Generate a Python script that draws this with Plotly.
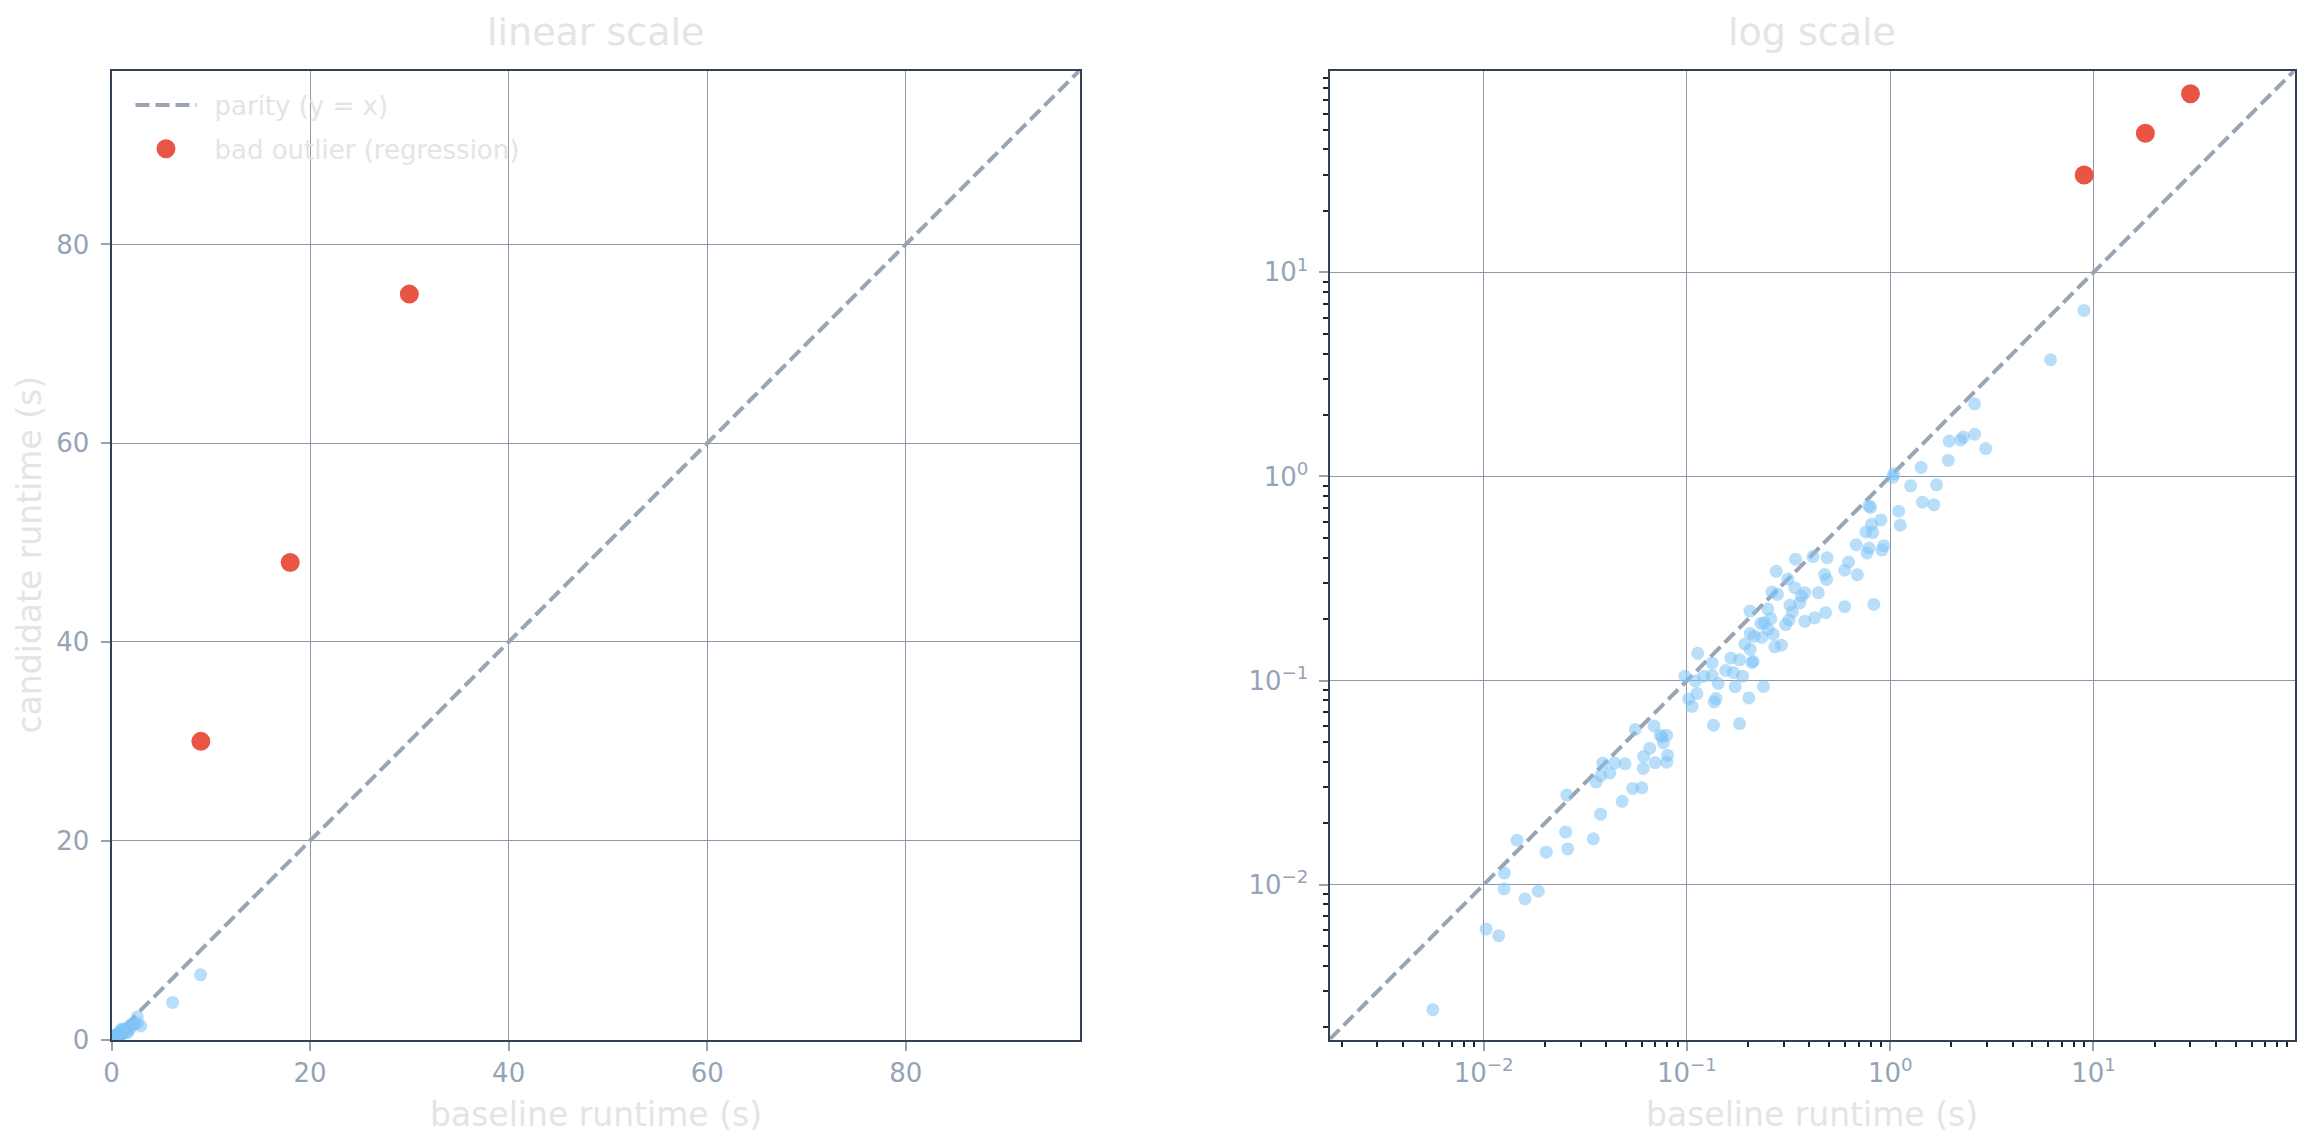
import numpy as np
import plotly.graph_objects as go

# ---------------- data ----------------
baseline = [
    0.00562, 0.01027, 0.01185, 0.01259, 0.01264, 0.01596, 0.01855, 0.01458, 0.0203, 0.0253,
    0.0259, 0.02566, 0.0346, 0.0376, 0.0357, 0.0376, 0.0417, 0.048, 0.0541, 0.060,
    0.0385, 0.044,
    0.0496, 0.061, 0.0612, 0.0656, 0.0697, 0.0795, 0.0803, 0.0689, 0.0557, 0.074,
    0.0765, 0.0795, 0.0753, 0.0977, 0.110, 0.112, 0.102, 0.106, 0.121, 0.113,
    0.133, 0.133, 0.1426, 0.135, 0.136, 0.139, 0.1815, 0.2016, 0.238, 0.1726,
    0.155, 0.1644, 0.1815, 0.1694, 0.1876, 0.2086, 0.2117, 0.1927, 0.2047, 0.2047,
    0.2143, 0.2335, 0.231, 0.240, 0.251, 0.2655, 0.2585, 0.2705, 0.2917, 0.204,
    0.250, 0.2615, 0.279, 0.2746, 0.306, 0.318, 0.330, 0.321,
    0.314, 0.339, 0.380, 0.366, 0.443, 0.359, 0.597, 0.830, 0.481, 0.425,
    0.380, 0.342, 0.417, 0.489, 0.624, 0.597, 0.689, 0.476, 0.486, 0.680,
    0.786, 0.768, 0.930, 0.910, 0.760, 0.820, 0.810, 0.900, 0.786, 0.800,
    1.10, 1.12, 1.04, 1.03, 1.26, 1.69, 1.44, 1.64, 1.42, 1.93,
    1.95, 2.22, 2.29, 2.60, 2.95, 2.60, 6.15, 8.97,
]
candidate = [
    0.00244, 0.00606, 0.00562, 0.00952, 0.0114, 0.00851, 0.00928, 0.01651, 0.01442, 0.0181,
    0.01496, 0.02748, 0.01676, 0.02215, 0.0318, 0.0342, 0.0352, 0.0256, 0.0296, 0.0298,
    0.0394, 0.0394,
    0.0391, 0.0371, 0.0425, 0.0466, 0.0396, 0.0398, 0.0431, 0.0599, 0.0576, 0.0539,
    0.0496, 0.0539, 0.0529, 0.105, 0.0996, 0.0863, 0.0813, 0.0748, 0.105, 0.136,
    0.122, 0.106, 0.0967, 0.0604, 0.0786, 0.0816, 0.0615, 0.0822, 0.0934, 0.0934,
    0.112, 0.129, 0.1264, 0.1094, 0.105, 0.1226, 0.124, 0.151, 0.142, 0.170,
    0.165, 0.1626, 0.1905, 0.192, 0.178, 0.1688, 0.201, 0.1463, 0.149, 0.219,
    0.224, 0.2716, 0.2644, 0.343, 0.188, 0.198, 0.217, 0.234,
    0.314, 0.285, 0.269, 0.259, 0.269, 0.240, 0.230, 0.236, 0.215, 0.203,
    0.195, 0.393, 0.405, 0.400, 0.381, 0.347, 0.330, 0.331, 0.313, 0.463,
    0.446, 0.422, 0.457, 0.436, 0.535, 0.531, 0.583, 0.612, 0.718, 0.705,
    0.676, 0.577, 1.03, 0.99, 0.90, 0.91, 0.748, 0.726, 1.107, 1.20,
    1.49, 1.51, 1.56, 1.61, 1.37, 2.27, 3.73, 6.51,
]
outlier_baseline = [9.0, 18.0, 30.0]
outlier_candidate = [30.0, 48.0, 75.0]

lin_ticks = [0, 20, 40, 60, 80]
log_ticks = [0.01, 0.1, 1, 10]
log_ticktext = ["10<sup>\u22122</sup>", "10<sup>\u22121</sup>", "10<sup>0</sup>", "10<sup>1</sup>"]
minor_decades = [0.001, 0.01, 0.1, 1, 10]
minor_mults = [2, 3, 4, 5, 6, 7, 8, 9]

# axis limits derived from the data
all_vals = baseline + candidate + outlier_baseline + outlier_candidate
hi = max(all_vals) * 1.3
lo = min(all_vals) / 1.4
lin_range = [0, hi]
log_range = [np.log10(lo), np.log10(hi)]
minor_vals = [d * m for d in minor_decades for m in minor_mults]

# ---------------- style ----------------
WIN_W, WIN_H = 2308, 1143
PAGE_MARGIN = 8              # default margin of the html body
OFF = 6.5                    # effective offset of the figure in the window
W, H = WIN_W - PAGE_MARGIN, WIN_H - PAGE_MARGIN
FONT = "DejaVu Sans"
LIGHT = "#e4e4e4"
TICKC = "#94a3b8"
FRAME = "#334155"
GRID = "#8f98a8"
BLUE = "#7dc3f5"
RED = "#e74c3c"
PARITY = "#9aa4b2"
DASH = "14px,6px"


def px_x(v):
    return (v - OFF) / W


def px_y(v):
    return 1 - (v - OFF) / H


dom_y = [px_y(1038), px_y(69)]
dom_x1 = [px_x(110), px_x(1078)]
dom_x2 = [px_x(1328), px_x(2293)]

red_marker = dict(color=RED, size=16, opacity=0.95, line=dict(width=3, color=RED))
blue_marker = dict(color=BLUE, size=13, opacity=0.55, line=dict(width=0))

fig = go.Figure()

# ---------- linear panel ----------
fig.add_trace(go.Scatter(
    x=lin_range, y=lin_range, mode="lines",
    line=dict(color=PARITY, width=4, dash=DASH),
    name="\u2002parity (y = x)", legendgroup="a", showlegend=True,
    xaxis="x", yaxis="y"))
fig.add_trace(go.Scatter(
    x=baseline, y=candidate, mode="markers", marker=blue_marker,
    showlegend=False, xaxis="x", yaxis="y"))
fig.add_trace(go.Scatter(
    x=outlier_baseline, y=outlier_candidate, mode="markers", marker=red_marker,
    name="\u2002bad outlier (regression)", legendgroup="b", showlegend=True,
    xaxis="x", yaxis="y"))

# ---------- log panel ----------
log_line = [lo, hi]
fig.add_trace(go.Scatter(
    x=log_line, y=log_line, mode="lines",
    line=dict(color=PARITY, width=4, dash=DASH),
    showlegend=False, xaxis="x2", yaxis="y2"))
fig.add_trace(go.Scatter(
    x=baseline, y=candidate, mode="markers", marker=blue_marker,
    showlegend=False, xaxis="x2", yaxis="y2"))
fig.add_trace(go.Scatter(
    x=outlier_baseline, y=outlier_candidate, mode="markers", marker=red_marker,
    showlegend=False, xaxis="x2", yaxis="y2"))

common = dict(
    showline=True, linecolor=FRAME, linewidth=2, mirror=True,
    showgrid=True, gridcolor=GRID, gridwidth=1.2,
    zeroline=False, ticks="outside", ticklen=9, tickwidth=2, tickcolor=TICKC,
    tickfont=dict(family=FONT, size=26, color=TICKC), automargin=False,
)

minor = dict(ticks="outside", ticklen=5, tickwidth=1.5, tickcolor="#222222",
             showgrid=False, tickvals=minor_vals)

fig.update_layout(
    width=W, height=H,
    margin=dict(l=0, r=0, t=0, b=0),
    paper_bgcolor="white", plot_bgcolor="white",
    font=dict(family=FONT, color=LIGHT),
    xaxis=dict(domain=dom_x1, anchor="y", range=lin_range, tickvals=lin_ticks, **common),
    yaxis=dict(domain=dom_y, anchor="x", range=lin_range, tickvals=lin_ticks,
               ticklabelstandoff=6, **common),
    xaxis2=dict(domain=dom_x2, anchor="y2", type="log", range=log_range,
                tickvals=log_ticks, ticktext=log_ticktext, minor=minor, **common),
    yaxis2=dict(domain=dom_y, anchor="x2", type="log", range=log_range,
                tickvals=log_ticks, ticktext=log_ticktext, minor=minor,
                ticklabelstandoff=5, **common),
    legend=dict(x=px_x(129), y=px_y(80), xanchor="left", yanchor="top",
                bgcolor="rgba(0,0,0,0)", borderwidth=0,
                font=dict(family=FONT, size=26, color=LIGHT),
                traceorder="grouped", tracegroupgap=7, itemwidth=61),
    showlegend=True,
)

annos = [
    dict(text="linear scale", x=(dom_x1[0] + dom_x1[1]) / 2, y=1.0, xa="center", ya="top", size=38, angle=0),
    dict(text="log scale", x=(dom_x2[0] + dom_x2[1]) / 2, y=1.0, xa="center", ya="top", size=38, angle=0),
    dict(text="baseline runtime (s)", x=(dom_x1[0] + dom_x1[1]) / 2, y=px_y(1113), xa="center", ya="middle", size=33, angle=0),
    dict(text="baseline runtime (s)", x=(dom_x2[0] + dom_x2[1]) / 2, y=px_y(1113), xa="center", ya="middle", size=33, angle=0),
    dict(text="candidate runtime (s)", x=0.0, y=(dom_y[0] + dom_y[1]) / 2, xa="left", ya="middle", size=33, angle=-90),
]
for a in annos:
    fig.add_annotation(text=a["text"], x=a["x"], y=a["y"], xref="paper", yref="paper",
                       xanchor=a["xa"], yanchor=a["ya"], showarrow=False,
                       textangle=a["angle"],
                       font=dict(family=FONT, size=a["size"], color=LIGHT))

fig.write_html("out.html")
